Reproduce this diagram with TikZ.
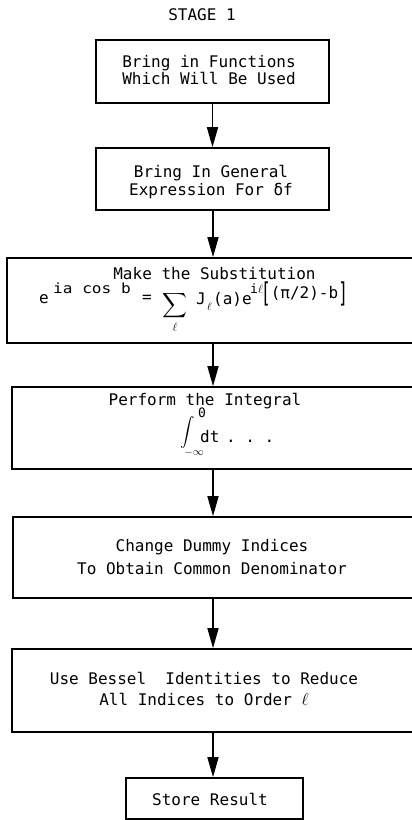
\documentclass[tikz,border=0pt]{standalone}
\usepackage{graphicx}
\usepackage{amsmath}
\usepackage{fontspec}
\setmainfont{DejaVu Sans Mono}
\usetikzlibrary{arrows.meta}
\begin{document}
\begin{tikzpicture}[x=1pt,y=-1pt,
  box/.style={draw, line width=1.6pt, inner sep=0pt},
  lbl/.style={font=\fontsize{16}{17}\selectfont, align=center, inner sep=0pt},
  piece/.style={font=\fontsize{16}{17}\selectfont, inner sep=0pt, anchor=base west},
  flow/.style={line width=1.5pt, -{Triangle[length=20pt,width=11pt]}}]
\clip (0,0) rectangle (412,820);
\fill[white] (0,0) rectangle (412,820);

% title
\node[lbl] (title) at (202,15) {STAGE 1};

% process boxes
\node[box, minimum width=233pt, minimum height=63pt] (b1) at (212.5,71.5) {};
\node[box, minimum width=233pt, minimum height=62pt] (b2) at (212.5,179) {};
\node[box, minimum width=412pt, minimum height=85pt] (b3) at (213,300.5) {};
\node[box, minimum width=402pt, minimum height=82pt] (b4) at (213,428) {};
\node[box, minimum width=400pt, minimum height=81pt] (b5) at (213,557.5) {};
\node[box, minimum width=402pt, minimum height=83pt] (b6) at (213,690.5) {};
\node[box, minimum width=177pt, minimum height=41pt] (b7) at (214.5,798.5) {};

% box texts
\node[lbl] (t1) at (209,70.5) {Bring in Functions\\Which Will Be Used};
\node[lbl] (t2) at (211,182) {Bring In General\\[1pt]Expression For δf};
\node[lbl] (t3) at (214.5,274) {Make the Substitution};

% series expansion
\node[piece] (f1) at (39,303) {e};
\node[piece, font=\fontsize{14}{14}\selectfont] (f2) at (53,293) {\scalebox{1.15}[1]{ia cos b}};
\node[lbl] (f3) at (147,299) {=};
\node[inner sep=0pt, font=\fontsize{16}{17}\selectfont] (f4) at (175,306) {$\displaystyle\sum$};
\node[inner sep=0pt, font=\fontsize{13}{13}\selectfont] (f5) at (175,327) {$\ell$};
\node[piece] (f6) at (196,304) {J};
\node[inner sep=0pt, anchor=base west, font=\fontsize{11}{11}\selectfont] (f7) at (207,310) {$\ell$};
\node[piece] (f8) at (213,304) {(a)e};
\node[inner sep=0pt, anchor=base west, font=\fontsize{13}{13}\selectfont] (f9) at (250,293) {i$\ell$};
\node[piece] (f10) at (261,298) {\raisebox{-4pt}{\scalebox{1}[1.7]{[}}(π/2)-b\raisebox{-4pt}{\scalebox{1}[1.7]{]}}};

\node[lbl] (t4) at (205,401) {Perform the Integral};
\node[inner sep=0pt, font=\fontsize{14}{14}\selectfont] (g1) at (188,432) {$\displaystyle\int$};
\node[inner sep=0pt, font=\fontsize{13}{13}\selectfont] (g2) at (202,413) {0};
\node[inner sep=0pt, font=\fontsize{11}{11}\selectfont] (g3) at (194,453) {$-\infty$};
\node[piece] (g4) at (200,442) {dt};
\node[piece] (g5) at (226,442) {.~.~.};

\node[lbl] (t5) at (212,557) {Change Dummy Indices\\[6pt]To Obtain Common Denominator};
\node[lbl] (t6) at (204,688.5) {Use Bessel\ ~Identities to Reduce\\[4pt]All Indices to Order $\ell$};
\node[lbl] (t7) at (210,799) {Store Result};

% flow arrows
\draw[flow] (b1.south) -- (b1.south |- b2.north);
\draw[flow] (b2.south -| b3.north) -- (b3.north);
\draw[flow] (b3.south) -- (b4.north);
\draw[flow] (b4.south) -- (b5.north);
\draw[flow] (b5.south) -- (b6.north);
\draw[flow] (b6.south) -- (b6.south |- b7.north);
\end{tikzpicture}
\end{document}
